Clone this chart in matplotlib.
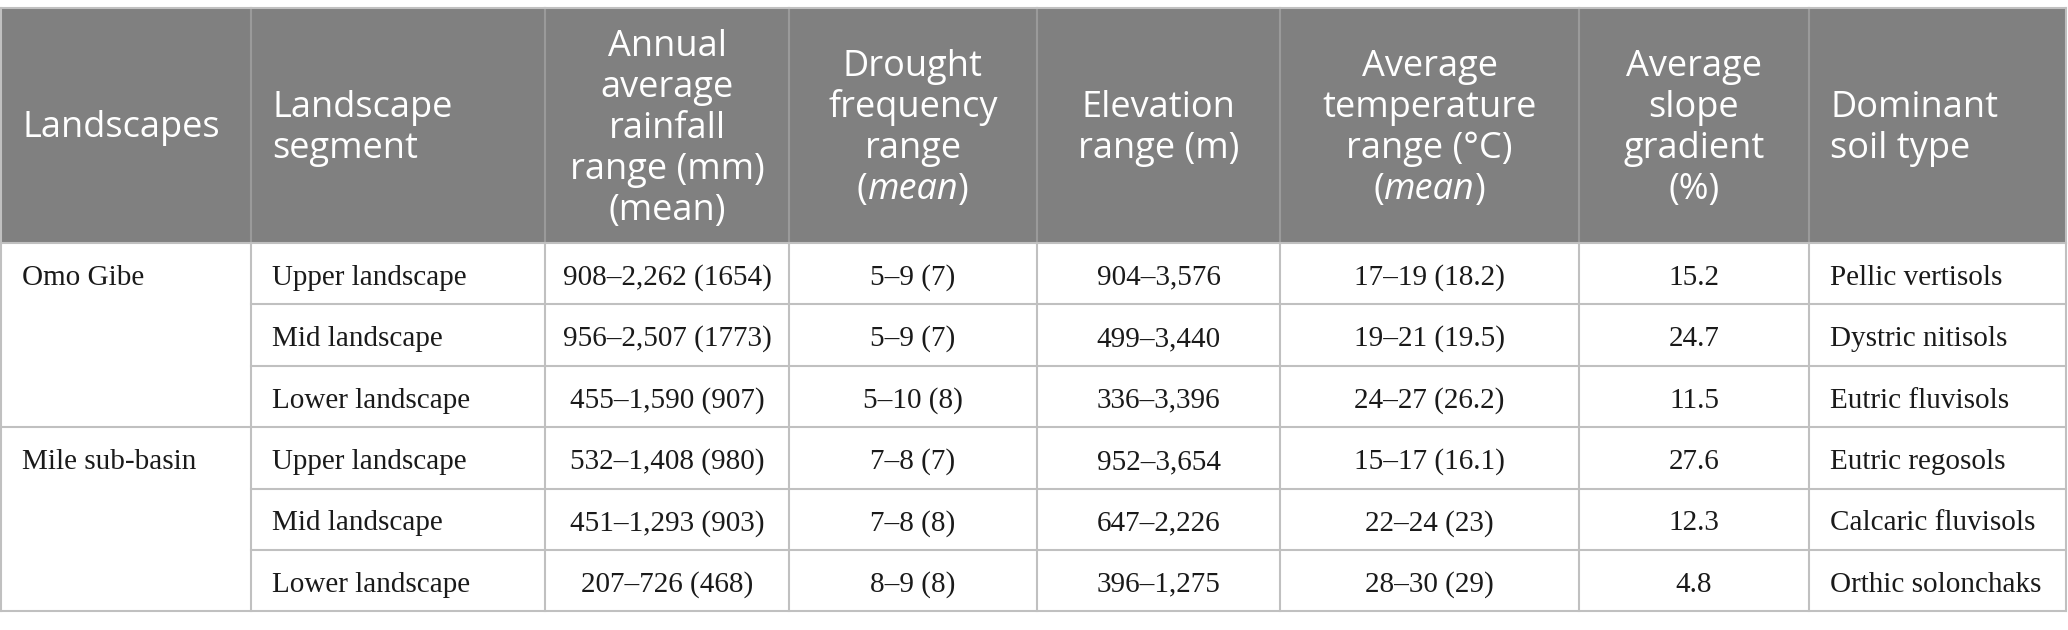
import matplotlib
matplotlib.use("Agg")
import matplotlib.pyplot as plt

# ---------------- data ----------------
header = [
    ["Landscapes"],
    ["Landscape", "segment"],
    ["Annual", "average", "rainfall", "range (mm)", "(mean)"],
    ["Drought", "frequency", "range", "(|mean|)"],
    ["Elevation", "range (m)"],
    ["Average", "temperature", "range (°C)", "(|mean|)"],
    ["Average", "slope", "gradient", "(%)"],
    ["Dominant", "soil type"],
]
landscapes = ["Omo Gibe", "", "", "Mile sub-basin", "", ""]
segments = ["Upper landscape", "Mid landscape", "Lower landscape",
            "Upper landscape", "Mid landscape", "Lower landscape"]
rainfall = ["908–2,262 (1654)", "956–2,507 (1773)", "455–1,590 (907)",
            "532–1,408 (980)", "451–1,293 (903)", "207–726 (468)"]
drought = ["5–9 (7)", "5–9 (7)", "5–10 (8)", "7–8 (7)", "7–8 (8)", "8–9 (8)"]
elevation = ["904–3,576", "499–3,440", "336–3,396",
             "952–3,654", "647–2,226", "396–1,275"]
temperature = ["17–19 (18.2)", "19–21 (19.5)", "24–27 (26.2)",
               "15–17 (16.1)", "22–24 (23)", "28–30 (29)"]
slope = ["15.2", "24.7", "11.5", "27.6", "12.3", "4.8"]
soil = ["Pellic vertisols", "Dystric nitisols", "Eutric fluvisols",
        "Eutric regosols", "Calcaric fluvisols", "Orthic solonchaks"]

columns = [landscapes, segments, rainfall, drought, elevation,
           temperature, slope, soil]
align = ["left", "left", "center", "center", "center", "center", "center", "left"]

# ---------------- layout ----------------
W, H = 2068, 630
col_edges = [1, 251, 545, 789, 1037, 1280, 1579, 1809, 2066]
top, head_bot = 8, 243
row_h = 61.4
n_rows = len(segments)
row_edges = [head_bot + i * row_h for i in range(n_rows + 1)]
pad = 21
line_gap = 41

HEAD_BG = "#808080"
GRID = "#c0c0c0"
HEAD_GRID = "#9a9a9a"
TXT = "#1a1a1a"

fig = plt.figure(figsize=(W / 100, H / 100), dpi=100)
ax = fig.add_axes([0, 0, 1, 1])
ax.set_xlim(0, W)
ax.set_ylim(H, 0)
ax.axis("off")

# header background
ax.add_patch(plt.Rectangle((col_edges[0], top), col_edges[-1] - col_edges[0],
                           head_bot - top, facecolor=HEAD_BG, edgecolor="none", zorder=1))

lw = 1.5
# top line
ax.plot([col_edges[0], col_edges[-1]], [top, top], color=GRID, lw=lw, zorder=3)
# header vertical separators
for x in col_edges[1:-1]:
    ax.plot([x, x], [top, head_bot], color=HEAD_GRID, lw=lw, zorder=2)
# body verticals + outer
for x in col_edges:
    ax.plot([x, x], [head_bot, row_edges[-1]], color=GRID, lw=lw, zorder=3)
ax.plot([col_edges[0], col_edges[0]], [top, head_bot], color=GRID, lw=lw, zorder=3)
ax.plot([col_edges[-1], col_edges[-1]], [top, head_bot], color=GRID, lw=lw, zorder=3)
# horizontal lines
for i, y in enumerate(row_edges):
    if i in (0, 3, n_rows):
        x0 = col_edges[0]
    else:
        x0 = col_edges[1]
    ax.plot([x0, col_edges[-1]], [y, y], color=GRID, lw=lw, zorder=3)

fig.canvas.draw()
renderer = fig.canvas.get_renderer()

head_font = dict(family="Open Sans", fontsize=26, color="white")
body_font = dict(family="Liberation Serif", fontsize=21, color=TXT)


def text_width(s, **kw):
    t = ax.text(0, 0, s, **kw)
    bb = t.get_window_extent(renderer)
    t.remove()
    return bb.width


def draw_rich(x, y, s, ha, fontdict):
    # segments separated by '|' alternate normal / italic
    parts = s.split("|")
    styles = ["normal" if i % 2 == 0 else "italic" for i in range(len(parts))]
    widths = [text_width(p, style=st, **fontdict) if p else 0 for p, st in zip(parts, styles)]
    total = sum(widths)
    if ha == "center":
        start = x - total / 2
    elif ha == "left":
        start = x
    else:
        start = x - total
    cx = start
    for p, st, w in zip(parts, styles, widths):
        if p:
            ax.text(cx, y, p, style=st, ha="left", va="baseline", zorder=4, **fontdict)
        cx += w


head_center = (top + head_bot) / 2
for c, lines in enumerate(header):
    n = len(lines)
    if align[c] == "left":
        x = col_edges[c] + pad
    else:
        x = (col_edges[c] + col_edges[c + 1]) / 2
    for i, ln in enumerate(lines):
        y = head_center + 12 + (i - (n - 1) / 2) * line_gap
        draw_rich(x, y, ln, align[c], head_font)

for c, col in enumerate(columns):
    for r, val in enumerate(col):
        if not val:
            continue
        yc = (row_edges[r] + row_edges[r + 1]) / 2 + 11
        if align[c] == "left":
            x = col_edges[c] + pad
        else:
            x = (col_edges[c] + col_edges[c + 1]) / 2
        ax.text(x, yc, val, ha=align[c], va="baseline", zorder=4, **body_font)

fig.savefig("out.png", dpi=100, facecolor="white")
